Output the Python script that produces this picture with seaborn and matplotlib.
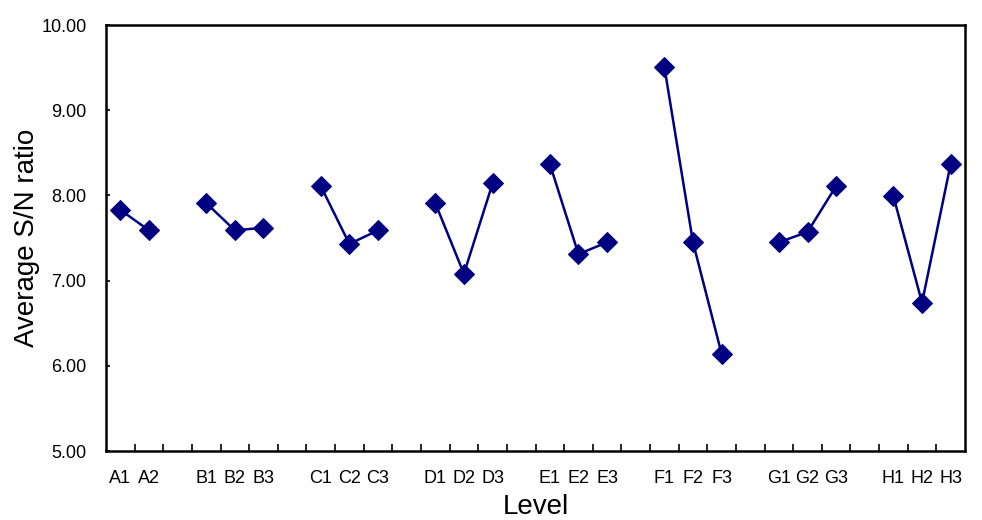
import matplotlib
matplotlib.use("Agg")
import matplotlib.pyplot as plt
import seaborn as sns
import pandas as pd
from matplotlib.ticker import FixedLocator

# ---- data ----
factors = ["A", "B", "C", "D", "E", "F", "G", "H"]
levels_per_factor = [2, 3, 3, 3, 3, 3, 3, 3]
sn_A = [7.83, 7.59]
sn_B = [7.91, 7.59, 7.62]
sn_C = [8.11, 7.43, 7.59]
sn_D = [7.91, 7.08, 8.14]
sn_E = [8.37, 7.31, 7.45]
sn_F = [9.51, 7.45, 6.14]
sn_G = [7.45, 7.57, 8.11]
sn_H = [7.99, 6.74, 8.37]
sn_values = [sn_A, sn_B, sn_C, sn_D, sn_E, sn_F, sn_G, sn_H]
y_ticks = [5.0, 6.0, 7.0, 8.0, 9.0, 10.0]

# category slots (with blank slots between factors)
categories = []
rows = []
for f, n, vals in zip(factors, levels_per_factor, sn_values):
    if categories:
        categories.append("")
    for k in range(n):
        lab = f"{f}{k+1}"
        rows.append({"group": f, "label": lab, "x": len(categories) + 0.5, "value": vals[k]})
        categories.append(lab)
df = pd.DataFrame(rows)

sns.set_theme(style="white")
plt.rcParams["font.family"] = ["Liberation Sans", "DejaVu Sans"]
plt.rcParams["text.color"] = "black"
plt.rcParams["axes.labelcolor"] = "black"
plt.rcParams["xtick.color"] = "black"
plt.rcParams["ytick.color"] = "black"

fig = plt.figure(figsize=(9.82, 5.20), dpi=100)
ax = fig.add_axes([106/982, 1 - 451/520, (965-106)/982, (451-25)/520])

navy = "#000080"
sns.lineplot(data=df, x="x", y="value", units="group", estimator=None,
             color=navy, linewidth=1.8, marker="D", markersize=10,
             markeredgecolor=navy, markerfacecolor=navy, ax=ax, legend=False)

ax.set_xlim(0, len(categories))
ax.set_ylim(5, 10)
ax.set_yticks(y_ticks)
ax.set_yticklabels([f"{v:.2f}" for v in y_ticks], fontsize=13)
ax.set_xticks([i + 0.5 for i in range(len(categories))])
ax.set_xticklabels(categories, fontsize=13)
ax.xaxis.set_minor_locator(FixedLocator(list(range(1, len(categories)))))
ax.tick_params(axis="x", which="major", length=0, pad=13.5)
ax.tick_params(axis="x", which="minor", direction="in", length=5, width=1.2,
               color="black", bottom=True)
ax.tick_params(axis="y", which="major", direction="in", length=3, width=1.2,
               color="black", left=True, pad=14)

for s in ax.spines.values():
    s.set_color("black")
    s.set_linewidth(1.8)
    s.set_visible(True)

ax.set_xlabel("Level", fontsize=20)
ax.set_ylabel("Average S/N ratio", fontsize=20)
ax.xaxis.set_label_coords(0.5, (451 - 507) / 426)
ax.xaxis.label.set_va("center")
ax.yaxis.set_label_coords((27 - 106) / 859, 0.5)
ax.yaxis.label.set_va("center")

fig.savefig("out.png", dpi=100, facecolor="white")
